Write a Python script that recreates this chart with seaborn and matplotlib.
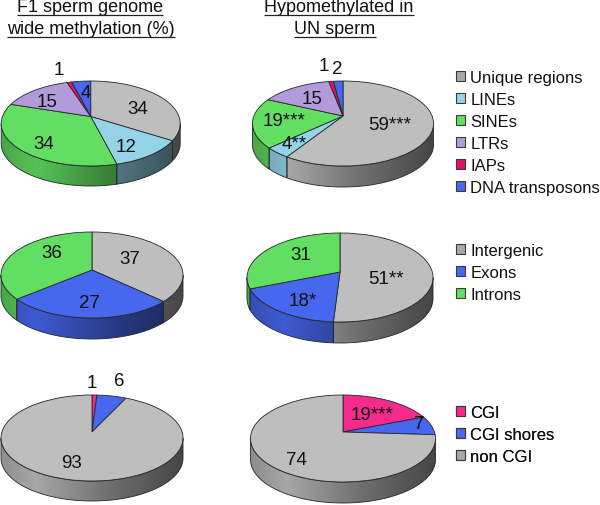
import numpy as np
import matplotlib
matplotlib.use("Agg")
import matplotlib.pyplot as plt
import seaborn as sns
from matplotlib.patches import Patch, PathPatch
from matplotlib.path import Path
from matplotlib.transforms import Transform

# ---- data ----
repeat_labels = ["Unique regions", "LINEs", "SINEs", "LTRs", "IAPs", "DNA transposons"]
genic_labels = ["Intergenic", "Exons", "Introns"]
cgi_labels = ["CGI", "CGI shores", "non CGI"]

f1_repeat = [34, 12, 34, 15, 1, 4]
un_repeat = [59, 4, 19, 15, 1, 2]
f1_genic = [37, 27, 36]
un_genic = [51, 18, 31]
f1_cgi = [1, 6, 93]
un_cgi = [19, 7, 74]

f1_repeat_text = ["34", "12", "34", "15", "1", "4"]
un_repeat_text = ["59***", "4**", "19***", "15", "1", "2"]
f1_genic_text = ["37", "27", "36"]
un_genic_text = ["51**", "18*", "31"]
f1_cgi_text = ["1", "6", "93"]
un_cgi_text = ["19***", "7", "74"]

title_left = ["F1 sperm genome", "wide methylation (%)"]
title_right = ["Hypomethylated in", "UN sperm"]

# ---- colours ----
GREY, SKY, GREEN, LILAC, RED, BLUE, PINK = (
    "#BEBEBE", "#95D3E8", "#62DE62", "#B39BDB", "#E4105E", "#4767EE", "#F42A8C")
repeat_colors = [GREY, SKY, GREEN, LILAC, RED, BLUE]
genic_colors = [GREY, BLUE, GREEN]
cgi_colors = [PINK, BLUE, GREY]

# ---- layout (pixels): apex x, apex y, half-width, up, down, depth ----
pies = [
    (f1_repeat, repeat_colors, f1_repeat_text, (90.7, 117.5, 89.5, 35.5, 49.5, 20),
     [(138, 109), (126, 147), (44, 144), (47, 102), (59, 70), (86, 93)]),
    (un_repeat, repeat_colors, un_repeat_text, (343, 117, 90.5, 35, 50, 21),
     [(390, 125), (294, 144), (284, 121), (312, 99), (324, 66), (337, 69)]),
    (f1_genic, genic_colors, f1_genic_text, (92, 271, 91, 38, 48, 21),
     [(130, 260), (89, 304), (52, 254)]),
    (un_genic, genic_colors, un_genic_text, (340, 273, 93, 39, 50, 21),
     [(386, 279), (303, 302), (301, 255)]),
    (f1_cgi, cgi_colors, f1_cgi_text, (92, 433, 91, 37, 49, 20),
     [(92, 383), (119, 381), (71, 464)]),
    (un_cgi, cgi_colors, un_cgi_text, (343, 433, 92.5, 37, 50, 21),
     [(372, 416), (419, 425), (296, 461)]),
]


class Tilt(Transform):
    """Projects a unit-circle pie onto a tilted disc, in pixel coordinates."""
    input_dims = output_dims = 2
    is_affine = False
    has_inverse = False

    def __init__(self, cx, cy, rx, up, down):
        super().__init__()
        self.k = (down - up) / (down + up)
        self.a = up * (1 + self.k)
        self.b = rx * np.sqrt(1 - self.k ** 2)
        self.cx, self.cy = cx, cy

    def transform_non_affine(self, xy):
        xy = np.asarray(xy, float)
        w = 1 + self.k * xy[:, 1]
        return np.column_stack((self.cx + self.b * xy[:, 0] / w,
                                self.cy - self.a * xy[:, 1] / w))


sns.set_theme(style="white")
plt.rcParams["font.family"] = ["Liberation Sans", "DejaVu Sans"]

fig = plt.figure(figsize=(6.0, 5.06), dpi=100)
ax = fig.add_axes([0, 0, 1, 1])

EDGE = "#20282c"
NUM_SIZE = 13.5
shade_x = [0.0, 0.2, 0.6, 1.0]
shade_y = [0.74, 0.88, 0.58, 0.36]

for values, colors, texts, (cx, cy, rx, up, down, depth), spots in pies:
    tilt = Tilt(cx, cy, rx, up, down)
    wedges, _ = ax.pie(values, colors=colors, startangle=90, counterclock=False,
                       radius=1, center=(0, 0),
                       wedgeprops=dict(edgecolor=EDGE, linewidth=0.6, zorder=3))
    mid_y = cy + (down - up) / 2
    x0, x1 = cx - rx - 2, cx + rx + 2
    for w, c in zip(wedges, colors):
        w.set_transform(tilt + ax.transData)
        th = np.radians(np.linspace(w.theta1, w.theta2, 600))
        pts = tilt.transform_non_affine(np.column_stack((np.cos(th), np.sin(th))))
        pts = pts[pts[:, 1] >= mid_y]
        if len(pts) < 2:
            continue
        low = pts[::-1] + [0, depth]
        poly = Path(np.vstack((pts, low, pts[:1])), closed=True)
        patch = PathPatch(poly, facecolor="none", edgecolor=EDGE, linewidth=0.6, zorder=2)
        ax.add_patch(patch)
        t = np.linspace(0, 1, 256)
        mult = np.interp(t, shade_x, shade_y)[None, :, None]
        grad = np.clip(np.array(matplotlib.colors.to_rgb(c))[None, None, :] * mult, 0, 1)
        im = ax.imshow(grad, extent=(x0, x1, mid_y + down + depth, mid_y - 5),
                       aspect="auto", interpolation="bilinear", zorder=1)
        im.set_clip_path(PathPatch(poly, transform=ax.transData))
    for s, (tx, ty) in zip(texts, spots):
        ax.text(tx, ty, s, fontsize=NUM_SIZE, color="#111111", ha="center",
                va="center", zorder=5)

ax.set_aspect("auto")
ax.set_xlim(0, 600)
ax.set_ylim(506, 0)
ax.set_axis_off()

# ---- titles with underlines ----
renderer = fig.canvas.get_renderer()
TITLE_SIZE = 13
for lines, xc_list in ((title_left, (90, 91)), (title_right, (339, 335))):
    for line, xc, yt, yu in zip(lines, xc_list, (7, 29), (15.5, 37.5)):
        t = ax.text(xc, yt, line, fontsize=TITLE_SIZE, color="#111111", ha="center",
                    va="center", zorder=5)
        width = t.get_window_extent(renderer).width
        ax.plot([xc - width / 2, xc + width / 2], [yu, yu], color="#222222",
                lw=0.9, zorder=5, solid_capstyle="butt")

# ---- legends ----
legend_grey = "#A8A8A8"
def legend_for(labels, colors, top):
    handles = [Patch(facecolor=legend_grey if c == GREY else c, edgecolor="#3a3a3a",
                     linewidth=0.8, label=l) for c, l in zip(colors, labels)]
    leg = ax.legend(handles=handles, loc="upper left", bbox_to_anchor=(456, top),
                    bbox_transform=ax.transData, frameon=False, fontsize=12,
                    handlelength=0.55, handleheight=0.55, handletextpad=0.3,
                    labelspacing=0.42, borderpad=0, borderaxespad=0,
                    labelcolor="#111111")
    ax.add_artist(leg)

legend_for(repeat_labels, repeat_colors, 71)
legend_for(genic_labels, genic_colors, 244)
legend_for(cgi_labels, cgi_colors, 406)

ax.set_xlim(0, 600)
ax.set_ylim(506, 0)
fig.savefig("out.png", dpi=100, facecolor="white")
